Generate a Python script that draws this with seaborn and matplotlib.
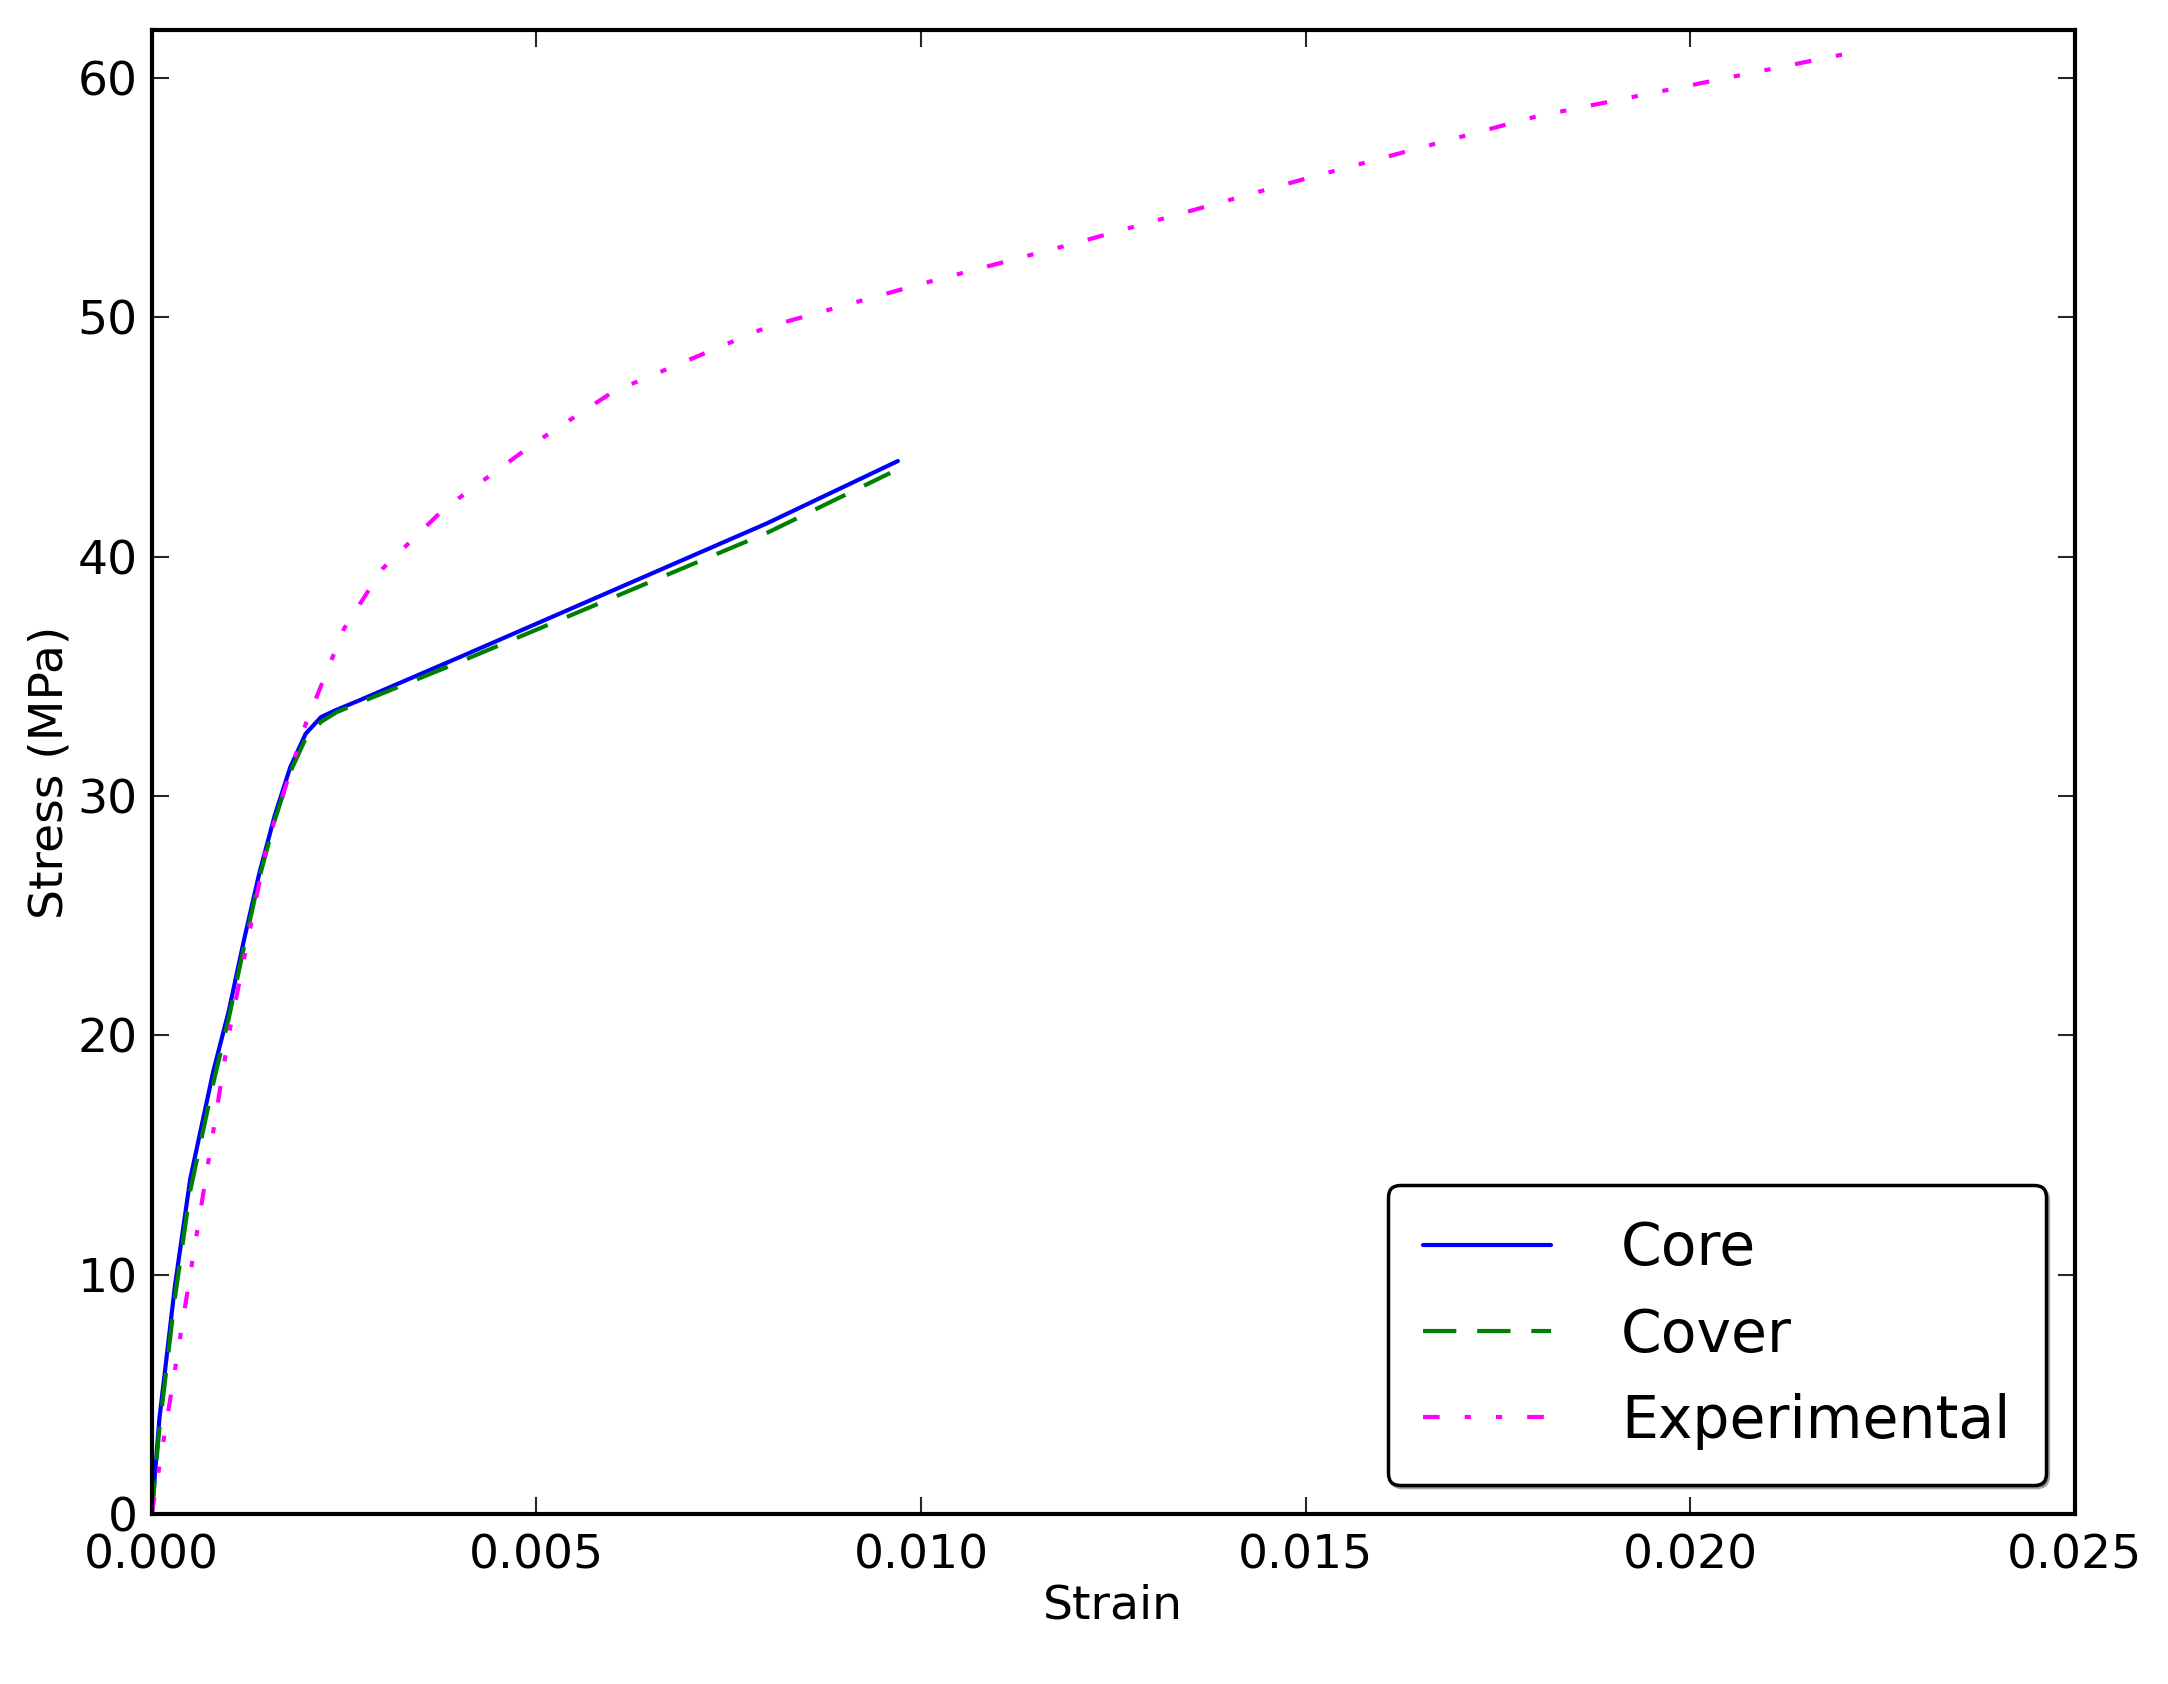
import pandas as pd
import matplotlib
matplotlib.use('Agg')
import matplotlib.pyplot as plt
import seaborn as sns

core_strain = [0.0, 0.0001, 0.0003, 0.0005, 0.0008, 0.001, 0.0012, 0.0014, 0.0016, 0.0018, 0.002, 0.0022, 0.0024, 0.0027, 0.004, 0.006, 0.008, 0.0097]
core_stress = [0.0, 4.0, 9.5, 14.0, 18.5, 21.0, 24.0, 26.8, 29.2, 31.2, 32.6, 33.3, 33.6, 34.0, 35.8, 38.6, 41.4, 44.0]
cover_strain = [0.0, 0.0001, 0.0003, 0.0005, 0.0008, 0.001, 0.0012, 0.0014, 0.0016, 0.0018, 0.002, 0.0022, 0.0024, 0.0027, 0.004, 0.006, 0.008, 0.0096]
cover_stress = [0.0, 3.6, 9.0, 13.5, 18.0, 20.7, 23.7, 26.6, 29.0, 31.0, 32.4, 33.1, 33.5, 33.9, 35.6, 38.3, 41.0, 43.5]
exp_strain = [0.0, 0.0002, 0.0005, 0.001, 0.0015, 0.002, 0.0025, 0.003, 0.0038, 0.005, 0.006, 0.008, 0.010, 0.012, 0.015, 0.018, 0.022]
exp_stress = [0.0, 4.0, 10.0, 20.0, 28.0, 33.0, 37.0, 39.5, 42.0, 44.8, 46.9, 49.6, 51.4, 53.1, 55.8, 58.4, 61.0]

sns.set_style('ticks')
plt.rcParams['font.family'] = ['DejaVu Sans']
plt.rcParams['text.color'] = 'black'

fig = plt.figure(figsize=(21.68, 16.84), dpi=100)
ax = fig.add_axes([0.07, 0.101, 0.887, 0.881])

sns.lineplot(x=core_strain, y=core_stress, ax=ax, color='#0000ff', lw=3, label='Core', sort=False)
sns.lineplot(x=cover_strain, y=cover_stress, ax=ax, color='#008000', lw=3, label='Cover', sort=False)
sns.lineplot(x=exp_strain, y=exp_stress, ax=ax, color='#ff00ff', lw=3, label='Experimental', sort=False)
ax.lines[1].set_dashes([8, 5])
ax.lines[2].set_dashes([4, 6, 1.5, 6, 1.5, 6])

ax.set_xlim(0, 0.025)
ax.set_ylim(0, 62)
ax.set_xticks([0.0, 0.005, 0.010, 0.015, 0.020, 0.025])
ax.set_xticklabels(['0.000', '0.005', '0.010', '0.015', '0.020', '0.025'])
ax.set_yticks([0, 10, 20, 30, 40, 50, 60])
ax.set_xlabel('Strain', fontsize=34, color='black')
ax.set_ylabel('Stress (MPa)', fontsize=34, color='black')
ax.tick_params(labelsize=34, labelcolor='black', direction='in', length=12, width=1.5, top=True, right=True)
ax.tick_params(axis='x', pad=14)
ax.tick_params(axis='y', pad=10)
for s in ax.spines.values():
    s.set_linewidth(3)
    s.set_color('black')

leg = ax.legend(loc='lower right', fontsize=42, shadow=True, fancybox=True, framealpha=1,
                handlelength=2.2, borderpad=0.6, handletextpad=1.2)
leg.get_frame().set_edgecolor('black')
leg.get_frame().set_linewidth(2.5)

fig.savefig('out.png', dpi=100)
